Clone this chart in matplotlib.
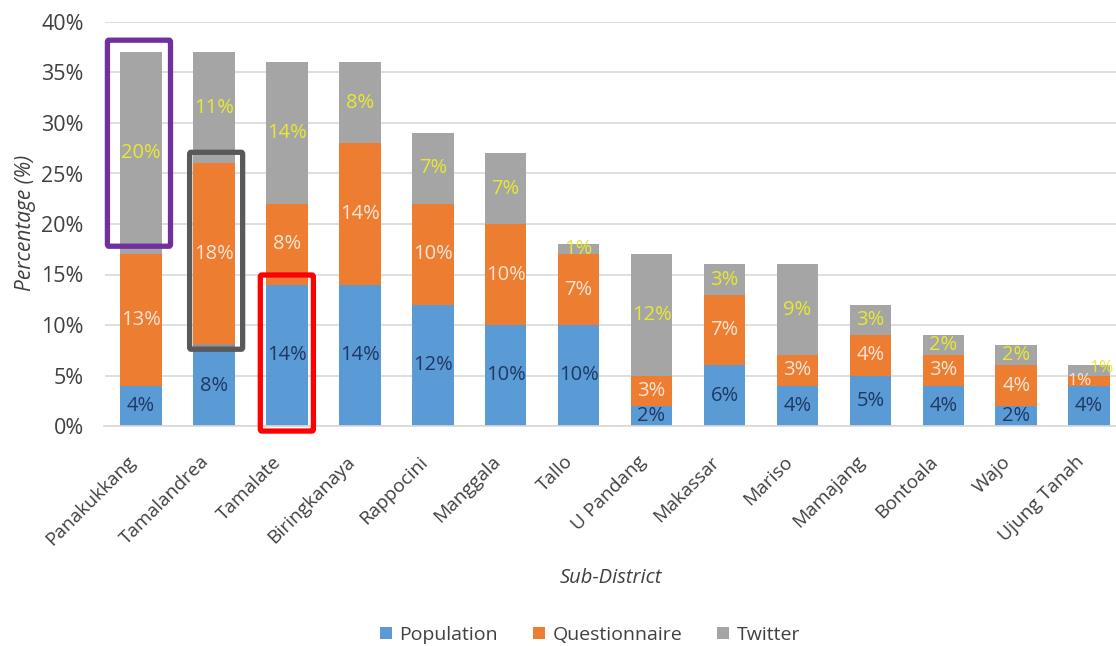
import matplotlib
matplotlib.use("Agg")
import matplotlib.pyplot as plt
import matplotlib.transforms as mtransforms
from matplotlib.patches import FancyBboxPatch
import numpy as np

plt.rcParams['font.family'] = ['Open Sans', 'DejaVu Sans']

districts = ["Panakukkang", "Tamalandrea", "Tamalate", "Biringkanaya", "Rappocini",
             "Manggala", "Tallo", "U Pandang", "Makassar", "Mariso", "Mamajang",
             "Bontoala", "Wajo", "Ujung Tanah"]
population = [4, 8, 14, 14, 12, 10, 10, 2, 6, 4, 5, 4, 2, 4]
questionnaire = [13, 18, 8, 14, 10, 10, 7, 3, 7, 3, 4, 3, 4, 1]
twitter = [20, 11, 14, 8, 7, 7, 1, 12, 3, 9, 3, 2, 2, 1]
y_ticks = [0, 5, 10, 15, 20, 25, 30, 35, 40]

series = [
    ("Population", population, "#5b9bd5", "#1f3864"),
    ("Questionnaire", questionnaire, "#ed7d31", "#fbe5d6"),
    ("Twitter", twitter, "#a5a5a5", "#e8e830"),
]

W, H = 1116, 646
fig = plt.figure(figsize=(W / 100, H / 100), dpi=100)
ax = fig.add_axes([104.5 / W, (H - 426) / H, (W - 104.5) / W, 404 / H])

x = np.arange(len(districts))
bar_w = 0.57
bottom = np.zeros(len(districts))
bottoms = {}
for name, vals, color, txt_color in series:
    vals = np.array(vals, dtype=float)
    ax.bar(x, vals, bar_w, bottom=bottom, color=color, label=name, zorder=2)
    bottoms[name] = bottom.copy()
    for i, v in enumerate(vals):
        dx = 0
        if districts[i] == "Ujung Tanah":
            dx = -7 if name == "Questionnaire" else (9 if name == "Twitter" else 0)
        dy = 2 if (districts[i] == "Ujung Tanah" and name == "Twitter") else 0
        small = districts[i] == "Ujung Tanah" and v <= 1
        ax.annotate(f"{int(v)}%", (x[i], bottom[i] + v / 2), xytext=(dx, dy),
                    textcoords="offset points", ha="center", va="center",
                    color=txt_color, fontsize=12.5 if small else 14.5,
                    zorder=4)
    bottom = bottom + vals

# highlight frames around selected segments
def frame(idx, name, vals, color, pad_lo, pad_hi, left, right):
    b = bottoms[name][idx]
    v = vals[idx]
    lo = b + pad_lo
    hi = b + v + pad_hi
    p = FancyBboxPatch((x[idx] + left, lo), right - left, hi - lo,
                       boxstyle="round,pad=0,rounding_size=0.02",
                       fill=False, edgecolor=color, linewidth=3.8,
                       clip_on=False, zorder=5, mutation_aspect=10)
    ax.add_patch(p)

frame(0, "Twitter", twitter, "#7030a0", 0.8, 1.2, -0.46, 0.405)
frame(1, "Questionnaire", questionnaire, "#595959", -0.4, 1.1, -0.333, 0.394)
frame(2, "Population", population, "#ff0000", -0.5, 0.95, -0.364, 0.364)

ax.set_xlim(-0.5, (W - 141.5) / 72.9)
ax.set_ylim(0, 40)
ax.set_yticks(y_ticks)
ax.set_yticklabels([f"{t}%" for t in y_ticks])
ax.set_xticks(x)
ax.set_xticklabels(districts, rotation=45, ha="right", va="center",
                   rotation_mode="anchor")
ax.tick_params(axis="x", length=0, pad=18, labelsize=13.8, labelcolor="#404040")
ax.tick_params(axis="y", length=0, pad=15, labelsize=15.5, labelcolor="#404040")
shift = mtransforms.ScaledTranslation(-8 / 100, -8 / 100, fig.dpi_scale_trans)
for lab in ax.get_xticklabels():
    lab.set_transform(lab.get_transform() + shift)
ax.grid(axis="y", color="#d9d9d9", linewidth=1.2, zorder=0)
ax.set_axisbelow(True)
for s in ["top", "right", "left"]:
    ax.spines[s].set_visible(False)
ax.spines["bottom"].set_color("#d9d9d9")
ax.spines["bottom"].set_linewidth(1.2)

fig.text(25 / W, 1 - 223 / H, "Percentage (%)", rotation=90, ha="center", va="center",
         fontsize=15, style="italic", color="#404040")
fig.text(611 / W, 1 - 578 / H, "Sub-District", ha="center", va="center",
         fontsize=14.5, style="italic", color="#404040")

fig.legend(loc="center", bbox_to_anchor=(590 / W, 11 / H), ncol=3, frameon=False,
           fontsize=14, handlelength=0.6, handleheight=0.6, handletextpad=0.4,
           columnspacing=1.8, labelcolor="#404040")

fig.savefig("out.png", dpi=100, facecolor="white")
